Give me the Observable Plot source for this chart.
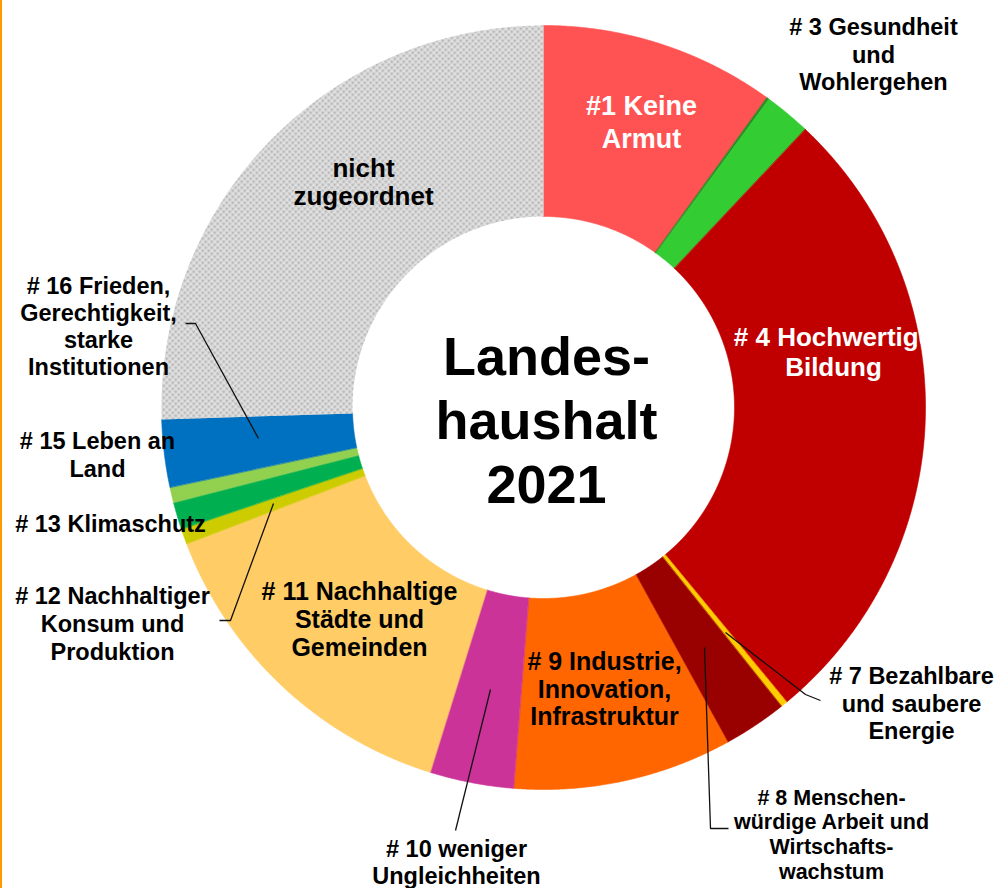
<!DOCTYPE html>
<html><head><meta charset="utf-8">
<script src="https://cdn.jsdelivr.net/npm/d3@7"></script>
<script src="https://cdn.jsdelivr.net/npm/@observablehq/plot@0.6"></script>
<style>
html,body{margin:0;padding:0;background:#fff;}
#wrap{position:relative;width:998px;height:888px;overflow:hidden;background:#fff;}
#edge{position:absolute;left:0;top:0;width:2px;height:888px;background:#ff9900;z-index:2;}
</style></head><body><div id="wrap"><div id="edge"></div></div>
<script>
// ---- data (share of the state budget 2021, in %) ----
const categories = [
  "#1 Keine Armut", "#2 Kein Hunger", "#3 Gesundheit und Wohlergehen", "#4 Hochwertige Bildung",
  "#7 Bezahlbare und saubere Energie", "#8 Menschenwürdige Arbeit und Wirtschaftswachstum",
  "#9 Industrie, Innovation, Infrastruktur", "#10 weniger Ungleichheiten",
  "#11 Nachhaltige Städte und Gemeinden", "#12 Nachhaltiger Konsum und Produktion",
  "#13 Klimaschutz", "#15 Leben an Land", "#16 Frieden, Gerechtigkeit, starke Institutionen",
  "nicht zugeordnet"
];
const shares = [9.95, 0.1, 1.97, 27.0, 0.28, 2.7, 9.25, 3.55, 14.4, 0.65, 1.15, 0.65, 2.85, 25.5];
const colors = ["#ff5353", "#1f8a1f", "#33cc33", "#c00000", "#ffcc00", "#990000", "#ff6600",
  "#cc3399", "#ffcc66", "#cccc00", "#00b050", "#92d050", "#0070c0", "url(#dots)"];

// ---- text labels ----
const labelTexts = [
  "#1 Keine\nArmut", "# 3 Gesundheit\nund\nWohlergehen", "# 4 Hochwertige\nBildung",
  "nicht\nzugeordnet", "# 16 Frieden,\nGerechtigkeit,\nstarke\nInstitutionen",
  "# 15 Leben an\nLand", "# 13 Klimaschutz", "# 12 Nachhaltiger\nKonsum und\nProduktion",
  "# 11 Nachhaltige\nStädte und\nGemeinden", "# 10 weniger\nUngleichheiten",
  "# 9 Industrie,\nInnovation,\nInfrastruktur", "# 8 Menschen-\nwürdige Arbeit und\nWirtschafts-\nwachstum",
  "# 7 Bezahlbare\nund saubere\nEnergie", "Landes-\nhaushalt\n2021"
];
const labelColors = ["white", "black", "white", "black", "black", "black", "black", "black",
  "black", "black", "black", "black", "black", "black"];

// ---- layout (pixels) ----
const CX = 543, CY = 407, R_OUT = 382, R_IN = 191;
const labelX =        [641, 873, 833, 363, 98, 97, 110, 112, 359, 456, 604, 831, 911, 546];
const labelBaseline = [110, 32, 343, 175, 291, 445, 528, 600, 597, 854, 668, 802, 681, 367];
const labelSize =     [27, 23.5, 26, 26, 23.5, 23.5, 23.5, 23.5, 25, 23.5, 25, 21.5, 23.5, 54];
const labelLead =     [33, 27.5, 30, 28, 27, 28, 28, 28, 28, 27, 27.5, 24.6, 27.5, 64];
const leaderPaths = [
  [[185, 323], [195, 323], [258, 438]],
  [[219, 620], [230, 620], [273, 503]],
  [[490, 689], [455, 830]],
  [[704, 647], [710, 828], [728, 828]],
  [[725, 632], [805, 694], [820, 700]]
];

// ---- build ring polygons through d3.pie ----
const slices = categories.map((c, i) => ({name: c, share: shares[i], color: colors[i]}));
const arcs = d3.pie().sort(null).value(d => d.share).startAngle(0).endAngle(2 * Math.PI)(slices);
const ringPts = arcs.flatMap(p => {
  const pts = [];
  const n = Math.max(2, Math.ceil((p.endAngle - p.startAngle) / 0.004));
  for (let k = 0; k <= n; k++) {
    const a = p.startAngle + (p.endAngle - p.startAngle) * k / n;
    pts.push({key: p.data.name, fill: p.data.color, x: CX + R_OUT * Math.sin(a), y: CY - R_OUT * Math.cos(a)});
  }
  for (let k = n; k >= 0; k--) {
    const a = p.startAngle + (p.endAngle - p.startAngle) * k / n;
    pts.push({key: p.data.name, fill: p.data.color, x: CX + R_IN * Math.sin(a), y: CY - R_IN * Math.cos(a)});
  }
  return pts;
});
const solidPts = ringPts.filter(d => !d.fill.startsWith("url"));
const patternPts = ringPts.filter(d => d.fill.startsWith("url"));

const leaderPts = leaderPaths.flatMap((path, i) => path.map(([x, y]) => ({id: i, x, y})));

const defs = () => {
  const s = d3.create("svg:defs");
  const p = s.append("pattern").attr("id", "dots").attr("width", 6).attr("height", 6)
    .attr("patternUnits", "userSpaceOnUse");
  p.append("rect").attr("width", 6).attr("height", 6).attr("fill", "#e0e0e0");
  p.append("rect").attr("x", 0).attr("y", 0).attr("width", 2.5).attr("height", 2.5).attr("fill", "#b8b8b8");
  p.append("rect").attr("x", 3).attr("y", 3).attr("width", 2.5).attr("height", 2.5).attr("fill", "#b8b8b8");
  return s.node();
};

const textMarks = labelTexts.map((t, i) => Plot.text([t], {
  x: () => labelX[i],
  y: () => labelBaseline[i] - 0.71 * labelSize[i],
  text: d => d,
  lineAnchor: "top",
  lineHeight: labelLead[i] / labelSize[i],
  fontSize: labelSize[i],
  fontWeight: "bold",
  fill: labelColors[i],
  textAnchor: "middle"
}));

const chart = Plot.plot({
  width: 998,
  height: 888,
  margin: 0,
  x: {domain: [0, 998], range: [0, 998], axis: null},
  y: {domain: [0, 888], range: [0, 888], axis: null},
  color: {type: "identity"},
  style: {background: "white", fontFamily: "Arial, 'Liberation Sans', sans-serif"},
  marks: [
    defs,
    Plot.line(solidPts, {x: "x", y: "y", z: "key", fill: "fill", stroke: "fill", strokeWidth: 0.6, curve: "linear-closed"}),
    Plot.line(patternPts, {x: "x", y: "y", z: "key", fill: "url(#dots)", stroke: "none", curve: "linear-closed"}),
    Plot.line(leaderPts, {x: "x", y: "y", z: "id", stroke: "#111", strokeWidth: 1.3, strokeLinejoin: "miter", strokeLinecap: "butt"}),
    ...textMarks
  ]
});
document.getElementById("wrap").appendChild(chart);
</script>
</body></html>
